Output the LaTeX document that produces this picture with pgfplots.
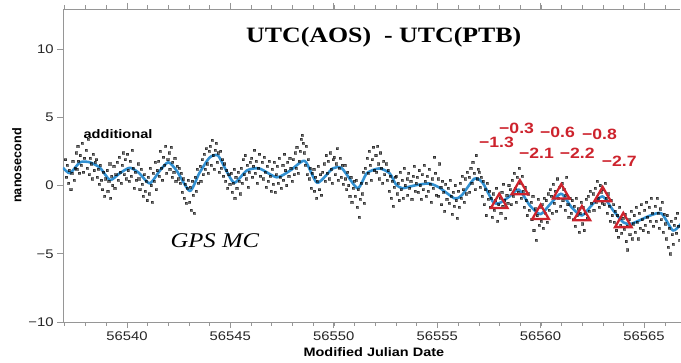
\documentclass[border=0pt]{standalone}
\usepackage{pgfplots}
\pgfplotsset{compat=1.18}
\usepackage{fontspec}
\setmainfont[FakeStretch=1.18]{Liberation Sans}
\newfontfamily\serif[FakeStretch=1.18]{Liberation Serif}
\newfontfamily\ysans{Liberation Sans}
\definecolor{lineblue}{RGB}{50,145,210}
\definecolor{tri}{RGB}{205,35,45}
\definecolor{axgray}{RGB}{150,150,150}
\begin{document}
\begin{tikzpicture}
\begin{axis}[name=ax, scale only axis, width=618bp, height=313bp,
 xmin=56536.91, xmax=56566.79, ymin=-10, ymax=12.93,
 axis line style={axgray, line width=0.8bp},
 tick align=outside, scaled x ticks=false,
 xtick pos=both, ytick pos=left,
 xtick={56540,56545,56550,56555,56560,56565},
 xticklabels={56540,56545,56550,56555,56560,56565},
 minor xtick={56537,56538,...,56566},
 ytick={-10,-5,0,5,10}, yticklabels={−10,−5,0,5,10},
 major tick length=6bp, minor tick length=3.5bp,
 tick style={axgray, line width=0.8bp},
 ticklabel style={font=\fontsize{12.6}{14}\selectfont, text=black!85},
 xlabel={Modified Julian Date}, ylabel={nanosecond},
 xlabel style={font=\bfseries\fontsize{12.3}{14}\selectfont, at={(axis description cs:0.503,-0.096)}, anchor=center},
 ylabel style={font=\ysans\bfseries\fontsize{12.7}{14}\selectfont, at={(axis description cs:-0.0745,0.5)}, anchor=center},
]
\addplot[only marks, mark=square*, mark size=1.05bp, black, opacity=0.55] coordinates {
(56537.03,1.9) (56537.08,0.6) (56537.12,1.5) (56537.18,0.2) (56537.22,1.1) (56537.28,-0.3) (56537.33,0.9) (56537.38,1.8) (56537.44,0.4) (56537.48,1.3)
(56537.53,2.4) (56537.57,1.2) (56537.62,2.9) (56537.66,1.8) (56537.71,0.9) (56537.75,2.2) (56537.8,1.5) (56537.85,3.1) (56537.9,1.0) (56537.95,2.0)
(56538.03,2.6) (56538.07,1.3) (56538.12,3.4) (56538.17,0.8) (56538.21,2.0) (56538.26,1.6) (56538.31,0.5) (56538.36,2.3) (56538.41,1.1) (56538.46,1.7)
(56538.53,1.9) (56538.57,0.6) (56538.62,1.2) (56538.67,0.1) (56538.72,1.5) (56538.77,0.4) (56538.82,-0.3) (56538.87,1.0) (56538.92,-0.8) (56538.97,0.5)
(56539.03,1.1) (56539.07,-0.4) (56539.12,0.3) (56539.17,1.6) (56539.21,-0.9) (56539.26,0.7) (56539.31,0.0) (56539.36,1.4) (56539.41,-0.2) (56539.46,0.8)
(56539.53,1.7) (56539.57,0.4) (56539.62,2.1) (56539.67,1.0) (56539.72,0.2) (56539.77,1.5) (56539.82,2.4) (56539.87,0.8) (56539.92,1.9) (56539.97,0.5)
(56540.03,2.3) (56540.07,1.1) (56540.12,0.3) (56540.17,1.8) (56540.21,0.7) (56540.26,2.6) (56540.31,1.3) (56540.36,-0.2) (56540.41,1.0) (56540.46,0.4)
(56540.53,1.6) (56540.57,0.5) (56540.62,-0.3) (56540.67,1.2) (56540.72,0.1) (56540.77,-0.8) (56540.82,0.8) (56540.87,-0.4) (56540.92,0.3) (56540.97,-1.1)
(56541.03,0.6) (56541.07,-0.6) (56541.12,1.3) (56541.17,0.0) (56541.21,-1.2) (56541.26,0.9) (56541.31,0.3) (56541.36,1.7) (56541.41,-0.3) (56541.46,1.1)
(56541.53,1.8) (56541.57,0.7) (56541.62,2.5) (56541.67,1.3) (56541.72,0.4) (56541.77,2.1) (56541.82,1.5) (56541.87,2.9) (56541.92,0.9) (56541.97,1.9)
(56542.03,2.4) (56542.07,1.2) (56542.12,2.8) (56542.17,0.6) (56542.21,1.7) (56542.26,1.0) (56542.31,2.0) (56542.36,0.3) (56542.41,1.4) (56542.46,0.5)
(56542.53,1.3) (56542.57,0.2) (56542.62,0.9) (56542.67,-0.5) (56542.72,0.5) (56542.77,-0.9) (56542.82,0.1) (56542.87,-1.3) (56542.92,-0.2) (56542.97,0.4)
(56543.03,-1.2) (56543.07,-0.1) (56543.12,-1.8) (56543.17,0.3) (56543.21,-0.7) (56543.26,-2.0) (56543.31,0.6) (56543.36,-0.4) (56543.41,1.2) (56543.46,0.2)
(56543.53,1.4) (56543.57,0.3) (56543.62,1.9) (56543.67,0.8) (56543.72,2.3) (56543.77,1.2) (56543.82,2.7) (56543.87,1.6) (56543.92,0.9) (56543.97,2.5)
(56544.03,2.9) (56544.07,1.5) (56544.12,3.3) (56544.17,2.2) (56544.21,1.2) (56544.26,2.6) (56544.31,3.1) (56544.36,1.7) (56544.41,2.4) (56544.46,1.0)
(56544.53,2.5) (56544.57,1.3) (56544.62,1.9) (56544.67,0.7) (56544.72,1.6) (56544.77,0.3) (56544.82,1.1) (56544.87,-0.2) (56544.92,0.8) (56544.97,0.1)
(56545.03,0.9) (56545.07,-0.5) (56545.12,0.2) (56545.17,1.2) (56545.21,-0.9) (56545.26,0.6) (56545.31,-0.2) (56545.36,1.0) (56545.41,0.3) (56545.46,-0.6)
(56545.53,1.3) (56545.57,0.2) (56545.62,1.9) (56545.67,0.8) (56545.72,2.2) (56545.77,0.5) (56545.82,1.5) (56545.87,-0.1) (56545.92,1.0) (56545.97,1.7)
(56546.03,2.0) (56546.07,0.6) (56546.12,1.4) (56546.17,2.6) (56546.21,0.9) (56546.26,1.8) (56546.31,0.2) (56546.36,1.3) (56546.41,2.3) (56546.46,0.7)
(56546.53,1.7) (56546.57,0.5) (56546.62,2.1) (56546.67,1.0) (56546.72,-0.1) (56546.77,1.4) (56546.82,0.3) (56546.87,1.8) (56546.92,0.7) (56546.97,-0.4)
(56547.03,1.2) (56547.07,0.1) (56547.12,1.7) (56547.17,-0.5) (56547.21,0.8) (56547.26,1.4) (56547.31,0.2) (56547.36,2.0) (56547.41,0.6) (56547.46,-0.2)
(56547.53,1.5) (56547.57,0.4) (56547.62,2.3) (56547.67,1.1) (56547.72,0.0) (56547.77,1.7) (56547.82,0.7) (56547.87,2.0) (56547.92,1.3) (56547.97,0.3)
(56548.03,1.9) (56548.07,0.8) (56548.12,2.4) (56548.17,1.3) (56548.21,2.8) (56548.26,0.9) (56548.31,1.8) (56548.36,2.5) (56548.41,3.4) (56548.46,3.7)
(56548.53,3.1) (56548.57,2.4) (56548.62,1.5) (56548.67,2.9) (56548.72,0.8) (56548.77,1.9) (56548.82,0.5) (56548.87,1.3) (56548.92,-0.2) (56548.97,0.9)
(56549.03,1.2) (56549.07,-0.4) (56549.12,0.6) (56549.17,-0.9) (56549.21,0.3) (56549.26,1.4) (56549.31,-0.3) (56549.36,0.8) (56549.41,-0.7) (56549.46,1.0)
(56549.53,1.6) (56549.57,0.3) (56549.62,2.2) (56549.67,0.9) (56549.72,1.8) (56549.77,0.5) (56549.82,2.4) (56549.87,1.2) (56549.92,0.2) (56549.97,1.9)
(56550.03,2.1) (56550.07,0.8) (56550.12,1.6) (56550.17,2.7) (56550.21,0.4) (56550.26,1.3) (56550.31,2.0) (56550.36,0.6) (56550.41,1.5) (56550.46,0.1)
(56550.53,1.5) (56550.57,0.5) (56550.62,-0.3) (56550.67,1.0) (56550.72,0.0) (56550.77,-0.8) (56550.82,0.6) (56550.87,-1.2) (56550.92,-0.2) (56550.97,0.3)
(56551.03,-0.8) (56551.07,0.4) (56551.12,-1.6) (56551.17,-0.3) (56551.21,-2.3) (56551.26,-1.0) (56551.31,0.2) (56551.36,-0.6) (56551.41,1.0) (56551.46,-1.3)
(56551.53,1.3) (56551.57,0.2) (56551.62,2.0) (56551.67,0.9) (56551.72,2.5) (56551.77,1.5) (56551.82,0.4) (56551.87,1.9) (56551.92,2.8) (56551.97,1.1)
(56552.03,2.2) (56552.07,1.0) (56552.12,2.9) (56552.17,1.6) (56552.21,0.5) (56552.26,2.4) (56552.31,1.3) (56552.36,0.2) (56552.41,1.8) (56552.46,0.8)
(56552.53,1.6) (56552.57,0.4) (56552.62,1.1) (56552.67,-0.4) (56552.72,0.7) (56552.77,-0.9) (56552.82,0.3) (56552.87,-1.5) (56552.92,-0.1) (56552.97,0.6)
(56553.03,0.7) (56553.07,-0.6) (56553.12,0.2) (56553.17,-1.1) (56553.21,1.0) (56553.26,-0.3) (56553.31,0.4) (56553.36,-0.9) (56553.41,1.3) (56553.46,0.0)
(56553.53,0.5) (56553.57,-0.7) (56553.62,0.9) (56553.67,-0.2) (56553.72,0.3) (56553.77,-1.0) (56553.82,0.7) (56553.87,1.4) (56553.92,-0.4) (56553.97,0.2)
(56554.03,0.6) (56554.07,-0.5) (56554.12,1.1) (56554.17,0.0) (56554.21,-1.0) (56554.26,0.8) (56554.31,-0.3) (56554.36,1.5) (56554.41,0.3) (56554.46,-0.8)
(56554.53,0.7) (56554.57,-0.4) (56554.62,1.2) (56554.67,0.1) (56554.72,-1.2) (56554.77,0.5) (56554.82,-0.2) (56554.87,2.1) (56554.92,0.9) (56554.97,-0.7)
(56555.03,0.5) (56555.07,-0.8) (56555.12,1.6) (56555.17,-0.1) (56555.21,-1.4) (56555.26,0.3) (56555.31,-0.5) (56555.36,-1.9) (56555.41,0.1) (56555.46,-1.0)
(56555.53,-0.2) (56555.57,-1.3) (56555.62,0.4) (56555.67,-0.8) (56555.72,-2.1) (56555.77,-0.5) (56555.82,-1.5) (56555.87,0.0) (56555.92,-1.1) (56555.97,-2.4)
(56556.03,-0.4) (56556.07,-1.6) (56556.12,0.2) (56556.17,-0.9) (56556.21,0.7) (56556.26,-0.3) (56556.31,-1.2) (56556.36,0.5) (56556.41,-0.6) (56556.46,1.0)
(56556.53,0.6) (56556.57,-0.5) (56556.62,1.3) (56556.67,0.2) (56556.72,1.7) (56556.77,0.9) (56556.82,-0.3) (56556.87,2.2) (56556.92,0.5) (56556.97,1.2)
(56557.03,1.0) (56557.07,-0.1) (56557.12,0.6) (56557.17,-0.8) (56557.21,0.3) (56557.26,-1.4) (56557.31,-0.3) (56557.36,-2.2) (56557.41,0.2) (56557.46,-1.0)
(56557.53,-0.4) (56557.57,-1.6) (56557.62,-0.9) (56557.67,-2.3) (56557.72,-0.6) (56557.77,-1.8) (56557.82,-1.1) (56557.87,-0.2) (56557.92,-2.6) (56557.97,-1.4)
(56558.03,-0.9) (56558.07,-2.0) (56558.12,-0.5) (56558.17,-1.5) (56558.21,0.1) (56558.26,-1.1) (56558.31,-2.4) (56558.36,-0.7) (56558.41,-1.3) (56558.46,0.0)
(56558.53,-0.3) (56558.57,-1.4) (56558.62,0.4) (56558.67,-0.8) (56558.72,0.9) (56558.77,-0.2) (56558.82,-1.2) (56558.87,0.6) (56558.92,-0.5) (56558.97,1.3)
(56559.03,0.2) (56559.07,-0.9) (56559.12,0.7) (56559.17,-0.4) (56559.21,-1.6) (56559.26,-0.1) (56559.31,-1.1) (56559.36,-2.2) (56559.41,-0.6) (56559.46,-1.8)
(56559.53,-1.2) (56559.57,-2.5) (56559.62,-0.8) (56559.67,-3.3) (56559.72,-1.7) (56559.77,-4.0) (56559.82,-2.2) (56559.87,-1.0) (56559.92,-2.9) (56559.97,-1.6)
(56560.03,-2.6) (56560.07,-1.4) (56560.12,-3.1) (56560.17,-0.9) (56560.21,-2.0) (56560.26,-1.1) (56560.31,-2.7) (56560.36,-0.6) (56560.41,-1.8) (56560.46,-0.3)
(56560.53,-0.8) (56560.57,-2.0) (56560.62,0.1) (56560.67,-1.3) (56560.72,-0.4) (56560.77,-1.9) (56560.82,0.5) (56560.87,-0.9) (56560.92,-0.1) (56560.97,-1.5)
(56561.03,0.2) (56561.07,-1.1) (56561.12,-0.3) (56561.17,-1.8) (56561.21,-0.7) (56561.26,0.6) (56561.31,-1.4) (56561.36,-2.3) (56561.41,-0.9) (56561.46,-2.0)
(56561.53,-1.1) (56561.57,-2.5) (56561.62,-1.5) (56561.67,-3.0) (56561.72,-0.9) (56561.77,-2.2) (56561.82,-1.7) (56561.87,-3.4) (56561.92,-2.0) (56561.97,-1.2)
(56562.03,-2.8) (56562.07,-1.6) (56562.12,-3.3) (56562.17,-2.0) (56562.21,-1.0) (56562.26,-2.4) (56562.31,-0.8) (56562.36,-1.9) (56562.41,-0.4) (56562.46,-1.3)
(56562.53,-0.6) (56562.57,-1.8) (56562.62,-0.2) (56562.67,-1.2) (56562.72,0.3) (56562.77,-0.9) (56562.82,-1.6) (56562.87,0.0) (56562.92,-0.5) (56562.97,-1.3)
(56563.03,-0.3) (56563.07,-1.4) (56563.12,0.2) (56563.17,-0.9) (56563.21,-2.0) (56563.26,-0.6) (56563.31,-1.5) (56563.36,-2.6) (56563.41,-1.1) (56563.46,-2.2)
(56563.53,-1.4) (56563.57,-2.7) (56563.62,-1.9) (56563.67,-3.3) (56563.72,-2.2) (56563.77,-3.8) (56563.82,-1.6) (56563.87,-2.9) (56563.92,-3.5) (56563.97,-2.4)
(56564.03,-3.2) (56564.07,-2.1) (56564.12,-4.1) (56564.17,-3.0) (56564.21,-4.7) (56564.26,-2.5) (56564.31,-3.6) (56564.36,-1.9) (56564.41,-3.9) (56564.46,-2.8)
(56564.53,-2.2) (56564.57,-3.4) (56564.62,-1.6) (56564.67,-2.7) (56564.72,-3.9) (56564.77,-2.0) (56564.82,-3.1) (56564.87,-1.4) (56564.92,-2.5) (56564.97,-3.3)
(56565.03,-1.8) (56565.07,-2.9) (56565.12,-1.2) (56565.17,-2.3) (56565.21,-3.4) (56565.26,-1.6) (56565.31,-2.6) (56565.36,-0.9) (56565.41,-2.0) (56565.46,-3.0)
(56565.53,-1.5) (56565.57,-2.6) (56565.62,-0.9) (56565.67,-2.0) (56565.72,-3.1) (56565.77,-1.7) (56565.82,-2.5) (56565.87,-1.2) (56565.92,-3.4) (56565.97,-2.1)
(56566.03,-2.8) (56566.07,-3.9) (56566.12,-2.2) (56566.17,-4.5) (56566.21,-3.1) (56566.26,-5.0) (56566.31,-2.6) (56566.36,-3.6) (56566.41,-4.3) (56566.46,-2.9)
(56566.53,-2.4) (56566.57,-3.5) (56566.62,-2.0) (56566.67,-3.0) (56566.72,-4.0)
};
\addplot[lineblue, line width=2.6bp, smooth, tension=0.4, line join=round] coordinates {
(56536.91,1.3) (56537.25,0.9) (56537.73,1.7) (56538.2,1.7) (56538.7,1.3) (56539.18,0.4) (56539.66,0.9)
(56540.14,1.3) (56540.6,0.9) (56541.1,0.15) (56541.6,1.1) (56542.0,1.7) (56542.4,1.1) (56543.04,-0.4)
(56543.5,0.9) (56544.0,2.05) (56544.4,2.2) (56544.8,1.1) (56545.2,0.2) (56545.8,1.1) (56546.4,1.25)
(56547.25,0.6) (56547.9,1.1) (56548.6,1.8) (56549.2,0.2) (56549.95,1.25) (56550.4,1.25) (56551.15,-0.2)
(56551.6,0.9) (56552.2,1.25) (56552.7,0.9) (56553.0,0.1) (56553.3,-0.2) (56553.9,0.0) (56554.6,0.15)
(56555.1,-0.15) (56555.85,-0.95) (56556.2,-0.7) (56556.8,0.5) (56557.2,0.2) (56557.7,-1.2) (56558.0,-1.3)
(56558.5,-0.8) (56558.95,-0.3) (56559.5,-1.5) (56560.0,-2.1) (56560.5,-1.3) (56561.0,-0.6) (56561.5,-1.6)
(56562.0,-2.2) (56562.5,-1.4) (56563.0,-0.8) (56563.5,-1.8) (56564.0,-2.7) (56564.4,-2.8) (56565.3,-2.2)
(56565.85,-2.05) (56566.4,-3.3) (56566.79,-2.8)
};
\addplot[only marks, mark=triangle, mark size=9.5bp, mark options={tri, line width=2.3bp}] coordinates {
(56558,-1.3) (56559,-0.3) (56560,-2.1) (56561,-0.6) (56562,-2.2) (56563,-0.8) (56564,-2.7)
};
\node[font=\serif\bfseries\fontsize{22}{26}\selectfont] at (axis description cs:0.519,0.91) {UTC(AOS)\ \ - UTC(PTB)};
\node[font=\serif\itshape\fontsize{21}{25}\selectfont] at (axis cs:56544.25,-4.03) {GPS MC};
\node[font=\bfseries\fontsize{12.4}{14}\selectfont] at (axis cs:56539.57,3.8) {additional};
\begin{scope}[every node/.style={text=tri, font=\bfseries\fontsize{15}{17}\selectfont}]
\node at (axis cs:56557.87,3.15) {−1.3};
\node at (axis cs:56558.84,4.18) {−0.3};
\node at (axis cs:56560.82,3.88) {−0.6};
\node at (axis cs:56562.85,3.74) {−0.8};
\node at (axis cs:56559.8,2.34) {−2.1};
\node at (axis cs:56561.77,2.34) {−2.2};
\node at (axis cs:56563.8,1.76) {−2.7};
\end{scope}
\end{axis}
\draw[white, line width=2bp] (ax.north east) -- (ax.south east);
\pgfresetboundingbox
\path[use as bounding box] ([xshift=-63bp,yshift=-41bp]ax.south west) rectangle ([yshift=9bp]ax.north east);
\end{tikzpicture}
\end{document}
